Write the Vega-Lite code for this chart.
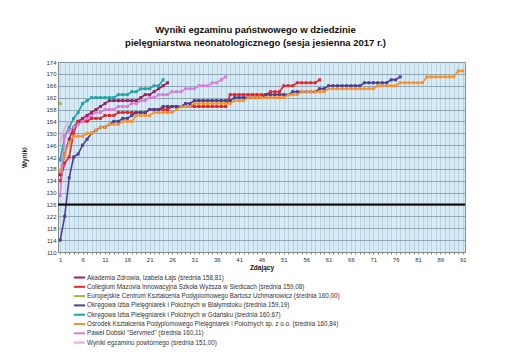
{
  "$schema": "https://vega.github.io/schema/vega-lite/v6.json",
  "width": 407,
  "height": 190,
  "autosize": {"type": "none"},
  "padding": {"left": 58, "top": 62, "right": 49, "bottom": 111},
  "background": "white",
  "title": {
    "text": ["Wyniki  egzaminu państwowego w dziedzinie", "pielęgniarstwa neonatologicznego (sesja jesienna 2017 r.)"],
    "font": "Liberation Sans",
    "fontSize": 9.5,
    "fontWeight": "bold",
    "color": "#111",
    "anchor": "middle",
    "dx": -6,
    "lineHeight": 13,
    "offset": 12
  },
  "config": {
    "view": {"fill": "#d6ebf5", "stroke": "#8a8a8a", "strokeWidth": 1},
    "font": "Liberation Sans",
    "axis": {"labelFont": "Liberation Sans", "titleFont": "Liberation Sans"}
  },
  "data": {"values": [
    {"k":"s1","x":1,"y":136},{"k":"s1","x":2,"y":143},{"k":"s1","x":3,"y":148},{"k":"s1","x":4,"y":152},{"k":"s1","x":5,"y":154},{"k":"s1","x":6,"y":155},{"k":"s1","x":7,"y":156},{"k":"s1","x":8,"y":157},{"k":"s1","x":9,"y":158},{"k":"s1","x":10,"y":159},{"k":"s1","x":11,"y":160},{"k":"s1","x":12,"y":161},{"k":"s1","x":13,"y":161},{"k":"s1","x":14,"y":161},{"k":"s1","x":15,"y":161},{"k":"s1","x":16,"y":161},{"k":"s1","x":17,"y":161},{"k":"s1","x":18,"y":161},{"k":"s1","x":19,"y":162},{"k":"s1","x":20,"y":163},{"k":"s1","x":21,"y":163},{"k":"s1","x":22,"y":164},{"k":"s1","x":23,"y":165},{"k":"s1","x":24,"y":166},{"k":"s1","x":25,"y":167},
    {"k":"s2","x":1,"y":134},{"k":"s2","x":2,"y":140},{"k":"s2","x":3,"y":142},{"k":"s2","x":4,"y":150},{"k":"s2","x":5,"y":154},{"k":"s2","x":6,"y":154},{"k":"s2","x":7,"y":154},{"k":"s2","x":8,"y":155},{"k":"s2","x":9,"y":155},{"k":"s2","x":10,"y":155},{"k":"s2","x":11,"y":156},{"k":"s2","x":12,"y":156},{"k":"s2","x":13,"y":156},{"k":"s2","x":14,"y":157},{"k":"s2","x":15,"y":157},{"k":"s2","x":16,"y":157},{"k":"s2","x":17,"y":157},{"k":"s2","x":18,"y":157},{"k":"s2","x":19,"y":157},{"k":"s2","x":20,"y":157},{"k":"s2","x":21,"y":158},{"k":"s2","x":22,"y":158},{"k":"s2","x":23,"y":158},{"k":"s2","x":24,"y":158},{"k":"s2","x":25,"y":158},{"k":"s2","x":26,"y":159},{"k":"s2","x":27,"y":159},{"k":"s2","x":28,"y":159},{"k":"s2","x":29,"y":159},{"k":"s2","x":30,"y":159},{"k":"s2","x":31,"y":159},{"k":"s2","x":32,"y":159},{"k":"s2","x":33,"y":159},{"k":"s2","x":34,"y":159},{"k":"s2","x":35,"y":159},{"k":"s2","x":36,"y":159},{"k":"s2","x":37,"y":159},{"k":"s2","x":38,"y":159},{"k":"s2","x":39,"y":163},{"k":"s2","x":40,"y":163},{"k":"s2","x":41,"y":163},{"k":"s2","x":42,"y":163},{"k":"s2","x":43,"y":163},{"k":"s2","x":44,"y":163},{"k":"s2","x":45,"y":163},{"k":"s2","x":46,"y":163},{"k":"s2","x":47,"y":163},{"k":"s2","x":48,"y":164},{"k":"s2","x":49,"y":164},{"k":"s2","x":50,"y":164},{"k":"s2","x":51,"y":166},{"k":"s2","x":52,"y":166},{"k":"s2","x":53,"y":166},{"k":"s2","x":54,"y":167},{"k":"s2","x":55,"y":167},{"k":"s2","x":56,"y":167},{"k":"s2","x":57,"y":167},{"k":"s2","x":58,"y":167},{"k":"s2","x":59,"y":168},
    {"k":"s3","x":1,"y":160},
    {"k":"s4","x":1,"y":114},{"k":"s4","x":2,"y":122},{"k":"s4","x":3,"y":135},{"k":"s4","x":4,"y":142},{"k":"s4","x":5,"y":143},{"k":"s4","x":6,"y":146},{"k":"s4","x":7,"y":148},{"k":"s4","x":8,"y":150},{"k":"s4","x":9,"y":151},{"k":"s4","x":10,"y":152},{"k":"s4","x":11,"y":152},{"k":"s4","x":12,"y":153},{"k":"s4","x":13,"y":154},{"k":"s4","x":14,"y":154},{"k":"s4","x":15,"y":155},{"k":"s4","x":16,"y":155},{"k":"s4","x":17,"y":156},{"k":"s4","x":18,"y":157},{"k":"s4","x":19,"y":157},{"k":"s4","x":20,"y":157},{"k":"s4","x":21,"y":158},{"k":"s4","x":22,"y":158},{"k":"s4","x":23,"y":158},{"k":"s4","x":24,"y":159},{"k":"s4","x":25,"y":159},{"k":"s4","x":26,"y":159},{"k":"s4","x":27,"y":159},{"k":"s4","x":28,"y":159},{"k":"s4","x":29,"y":160},{"k":"s4","x":30,"y":160},{"k":"s4","x":31,"y":161},{"k":"s4","x":32,"y":161},{"k":"s4","x":33,"y":161},{"k":"s4","x":34,"y":161},{"k":"s4","x":35,"y":161},{"k":"s4","x":36,"y":161},{"k":"s4","x":37,"y":161},{"k":"s4","x":38,"y":161},{"k":"s4","x":39,"y":161},{"k":"s4","x":40,"y":162},{"k":"s4","x":41,"y":162},{"k":"s4","x":42,"y":162},{"k":"s4","x":43,"y":162},{"k":"s4","x":44,"y":162},{"k":"s4","x":45,"y":162},{"k":"s4","x":46,"y":162},{"k":"s4","x":47,"y":163},{"k":"s4","x":48,"y":163},{"k":"s4","x":49,"y":163},{"k":"s4","x":50,"y":163},{"k":"s4","x":51,"y":163},{"k":"s4","x":52,"y":163},{"k":"s4","x":53,"y":164},{"k":"s4","x":54,"y":164},{"k":"s4","x":55,"y":164},{"k":"s4","x":56,"y":164},{"k":"s4","x":57,"y":164},{"k":"s4","x":58,"y":164},{"k":"s4","x":59,"y":165},{"k":"s4","x":60,"y":165},{"k":"s4","x":61,"y":166},{"k":"s4","x":62,"y":166},{"k":"s4","x":63,"y":166},{"k":"s4","x":64,"y":166},{"k":"s4","x":65,"y":166},{"k":"s4","x":66,"y":166},{"k":"s4","x":67,"y":166},{"k":"s4","x":68,"y":166},{"k":"s4","x":69,"y":167},{"k":"s4","x":70,"y":167},{"k":"s4","x":71,"y":167},{"k":"s4","x":72,"y":167},{"k":"s4","x":73,"y":167},{"k":"s4","x":74,"y":167},{"k":"s4","x":75,"y":168},{"k":"s4","x":76,"y":168},{"k":"s4","x":77,"y":169},
    {"k":"s5","x":1,"y":141},{"k":"s5","x":2,"y":149},{"k":"s5","x":3,"y":152},{"k":"s5","x":4,"y":155},{"k":"s5","x":5,"y":157},{"k":"s5","x":6,"y":160},{"k":"s5","x":7,"y":161},{"k":"s5","x":8,"y":162},{"k":"s5","x":9,"y":162},{"k":"s5","x":10,"y":162},{"k":"s5","x":11,"y":162},{"k":"s5","x":12,"y":162},{"k":"s5","x":13,"y":162},{"k":"s5","x":14,"y":163},{"k":"s5","x":15,"y":163},{"k":"s5","x":16,"y":163},{"k":"s5","x":17,"y":164},{"k":"s5","x":18,"y":164},{"k":"s5","x":19,"y":165},{"k":"s5","x":20,"y":165},{"k":"s5","x":21,"y":165},{"k":"s5","x":22,"y":166},{"k":"s5","x":23,"y":166},{"k":"s5","x":24,"y":168},
    {"k":"s6","x":1,"y":137},{"k":"s6","x":2,"y":143},{"k":"s6","x":3,"y":147},{"k":"s6","x":4,"y":149},{"k":"s6","x":5,"y":149},{"k":"s6","x":6,"y":149},{"k":"s6","x":7,"y":150},{"k":"s6","x":8,"y":150},{"k":"s6","x":9,"y":151},{"k":"s6","x":10,"y":152},{"k":"s6","x":11,"y":152},{"k":"s6","x":12,"y":153},{"k":"s6","x":13,"y":153},{"k":"s6","x":14,"y":153},{"k":"s6","x":15,"y":154},{"k":"s6","x":16,"y":154},{"k":"s6","x":17,"y":154},{"k":"s6","x":18,"y":156},{"k":"s6","x":19,"y":156},{"k":"s6","x":20,"y":156},{"k":"s6","x":21,"y":156},{"k":"s6","x":22,"y":157},{"k":"s6","x":23,"y":157},{"k":"s6","x":24,"y":157},{"k":"s6","x":25,"y":157},{"k":"s6","x":26,"y":157},{"k":"s6","x":27,"y":158},{"k":"s6","x":28,"y":159},{"k":"s6","x":29,"y":159},{"k":"s6","x":30,"y":159},{"k":"s6","x":31,"y":160},{"k":"s6","x":32,"y":160},{"k":"s6","x":33,"y":160},{"k":"s6","x":34,"y":160},{"k":"s6","x":35,"y":160},{"k":"s6","x":36,"y":160},{"k":"s6","x":37,"y":160},{"k":"s6","x":38,"y":160},{"k":"s6","x":39,"y":160},{"k":"s6","x":40,"y":161},{"k":"s6","x":41,"y":161},{"k":"s6","x":42,"y":161},{"k":"s6","x":43,"y":162},{"k":"s6","x":44,"y":162},{"k":"s6","x":45,"y":162},{"k":"s6","x":46,"y":162},{"k":"s6","x":47,"y":162},{"k":"s6","x":48,"y":162},{"k":"s6","x":49,"y":162},{"k":"s6","x":50,"y":162},{"k":"s6","x":51,"y":162},{"k":"s6","x":52,"y":163},{"k":"s6","x":53,"y":163},{"k":"s6","x":54,"y":163},{"k":"s6","x":55,"y":164},{"k":"s6","x":56,"y":164},{"k":"s6","x":57,"y":164},{"k":"s6","x":58,"y":164},{"k":"s6","x":59,"y":164},{"k":"s6","x":60,"y":164},{"k":"s6","x":61,"y":165},{"k":"s6","x":62,"y":165},{"k":"s6","x":63,"y":165},{"k":"s6","x":64,"y":165},{"k":"s6","x":65,"y":165},{"k":"s6","x":66,"y":165},{"k":"s6","x":67,"y":165},{"k":"s6","x":68,"y":165},{"k":"s6","x":69,"y":165},{"k":"s6","x":70,"y":165},{"k":"s6","x":71,"y":165},{"k":"s6","x":72,"y":166},{"k":"s6","x":73,"y":166},{"k":"s6","x":74,"y":166},{"k":"s6","x":75,"y":166},{"k":"s6","x":76,"y":166},{"k":"s6","x":77,"y":167},{"k":"s6","x":78,"y":167},{"k":"s6","x":79,"y":167},{"k":"s6","x":80,"y":167},{"k":"s6","x":81,"y":167},{"k":"s6","x":82,"y":167},{"k":"s6","x":83,"y":169},{"k":"s6","x":84,"y":169},{"k":"s6","x":85,"y":169},{"k":"s6","x":86,"y":169},{"k":"s6","x":87,"y":169},{"k":"s6","x":88,"y":169},{"k":"s6","x":89,"y":169},{"k":"s6","x":90,"y":171},{"k":"s6","x":91,"y":171},
    {"k":"s7","x":1,"y":129},{"k":"s7","x":2,"y":149},{"k":"s7","x":3,"y":151},{"k":"s7","x":4,"y":152},{"k":"s7","x":5,"y":153},{"k":"s7","x":6,"y":154},{"k":"s7","x":7,"y":155},{"k":"s7","x":8,"y":156},{"k":"s7","x":9,"y":157},{"k":"s7","x":10,"y":157},{"k":"s7","x":11,"y":158},{"k":"s7","x":12,"y":158},{"k":"s7","x":13,"y":158},{"k":"s7","x":14,"y":159},{"k":"s7","x":15,"y":159},{"k":"s7","x":16,"y":159},{"k":"s7","x":17,"y":160},{"k":"s7","x":18,"y":160},{"k":"s7","x":19,"y":161},{"k":"s7","x":20,"y":161},{"k":"s7","x":21,"y":162},{"k":"s7","x":22,"y":162},{"k":"s7","x":23,"y":163},{"k":"s7","x":24,"y":163},{"k":"s7","x":25,"y":163},{"k":"s7","x":26,"y":164},{"k":"s7","x":27,"y":164},{"k":"s7","x":28,"y":164},{"k":"s7","x":29,"y":165},{"k":"s7","x":30,"y":165},{"k":"s7","x":31,"y":165},{"k":"s7","x":32,"y":166},{"k":"s7","x":33,"y":166},{"k":"s7","x":34,"y":166},{"k":"s7","x":35,"y":167},{"k":"s7","x":36,"y":167},{"k":"s7","x":37,"y":168},{"k":"s7","x":38,"y":169},
    {"k":"s8","x":1,"y":147},{"k":"s8","x":2,"y":152},{"k":"s8","x":3,"y":154}
  ]},
  "layer": [
    {
      "mark": {"type": "line", "strokeWidth": 1.6, "clip": true},
      "encoding": {
        "x": {"field": "x", "type": "quantitative",
              "scale": {"domain": [0.5, 91.5], "nice": false, "zero": false},
              "axis": {"values": [1,2,3,4,5,6,7,8,9,10,11,12,13,14,15,16,17,18,19,20,21,22,23,24,25,26,27,28,29,30,31,32,33,34,35,36,37,38,39,40,41,42,43,44,45,46,47,48,49,50,51,52,53,54,55,56,57,58,59,60,61,62,63,64,65,66,67,68,69,70,71,72,73,74,75,76,77,78,79,80,81,82,83,84,85,86,87,88,89,90,91],
                       "tickCount": 200,
                       "format": "d",
                       "labelExpr": "(datum.value - 1) % 5 == 0 ? datum.label : ''",
                       "labelOverlap": false, "labelFontSize": 6, "labelColor": "#333", "labelPadding": 2,
                       "tickSize": 2, "tickColor": "#888", "domainColor": "#888",
                       "grid": true, "gridColor": "#a8c3d1", "gridWidth": 0.6,
                       "title": "Zdający", "titleFontSize": 6.5, "titleFontWeight": "bold", "titleColor": "#111", "titlePadding": 2}},
        "y": {"field": "y", "type": "quantitative",
              "scale": {"domain": [110, 174], "nice": false, "zero": false},
              "axis": {"values": [110,114,118,122,126,130,134,138,142,146,150,154,158,162,166,170,174],
                       "tickCount": 50,
                       "format": "d",
                       "labelOverlap": false,
                       "labelFontSize": 6, "labelColor": "#333", "labelPadding": 2,
                       "tickSize": 0, "domainColor": "#888",
                       "grid": true, "gridColor": "#7f95a5", "gridWidth": 0.8,
                       "title": "Wyniki", "titleFontSize": 6.5, "titleFontWeight": "bold", "titleColor": "#111", "titlePadding": 18}},
        "color": {"field": "k", "type": "nominal",
                  "scale": {"domain": ["s1","s2","s3","s4","s5","s6","s7","s8"],
                            "range": ["#9b2062","#e2262c","#a9ad4c","#4b3f92","#1fa5a8","#f7922e","#d67fd8","#eaa7dc"]},
                  "legend": {"orient": "none", "legendX": 17, "legendY": 211, "direction": "vertical", "title": null,
                             "symbolType": "M-1.6,0L1.6,0", "symbolSize": 49, "symbolStrokeWidth": 2,
                             "labelFontSize": 6.3, "labelColor": "#333", "labelLimit": 450, "labelOffset": 3,
                             "rowPadding": 0.3,
                             "labelExpr": "datum.value == 's1' ? 'Akademia Zdrowia, Izabela Łajs (średnia 158,81)' : datum.value == 's2' ? 'Collegium Mazovia Innowacyjna Szkoła Wyższa w Siedlcach (średnia 159,08)' : datum.value == 's3' ? 'Europejskie Centrum Kształcenia Podyplomowego Bartosz Uchmanowicz (średnia 160,00)' : datum.value == 's4' ? 'Okręgowa Izba Pielęgniarek i Położnych w Białymstoku (średnia 159,19)' : datum.value == 's5' ? 'Okręgowa Izba Pielęgniarek i Położnych w Gdańsku (średnia 160,67)' : datum.value == 's6' ? 'Ośrodek Kształcenia Podyplomowego Pielęgniarek i Położnych sp. z o.o. (średnia 160,84)' : datum.value == 's7' ? 'Paweł Dobski \"Servmed\" (średnia 160,11)' : 'Wyniki egzaminu powtórnego (średnia 151,00)'"}}
      }
    },
    {
      "transform": [{"filter": "datum.k != 's8'"}],
      "mark": {"type": "point", "shape": "square", "filled": true, "size": 9, "opacity": 1},
      "encoding": {
        "x": {"field": "x", "type": "quantitative"},
        "y": {"field": "y", "type": "quantitative"},
        "color": {"field": "k", "type": "nominal", "legend": null}
      }
    },
    {
      "data": {"values": [{"prog": 126}]},
      "mark": {"type": "rule", "color": "#000", "strokeWidth": 2.2},
      "encoding": {"y": {"field": "prog", "type": "quantitative"}}
    }
  ]
}
